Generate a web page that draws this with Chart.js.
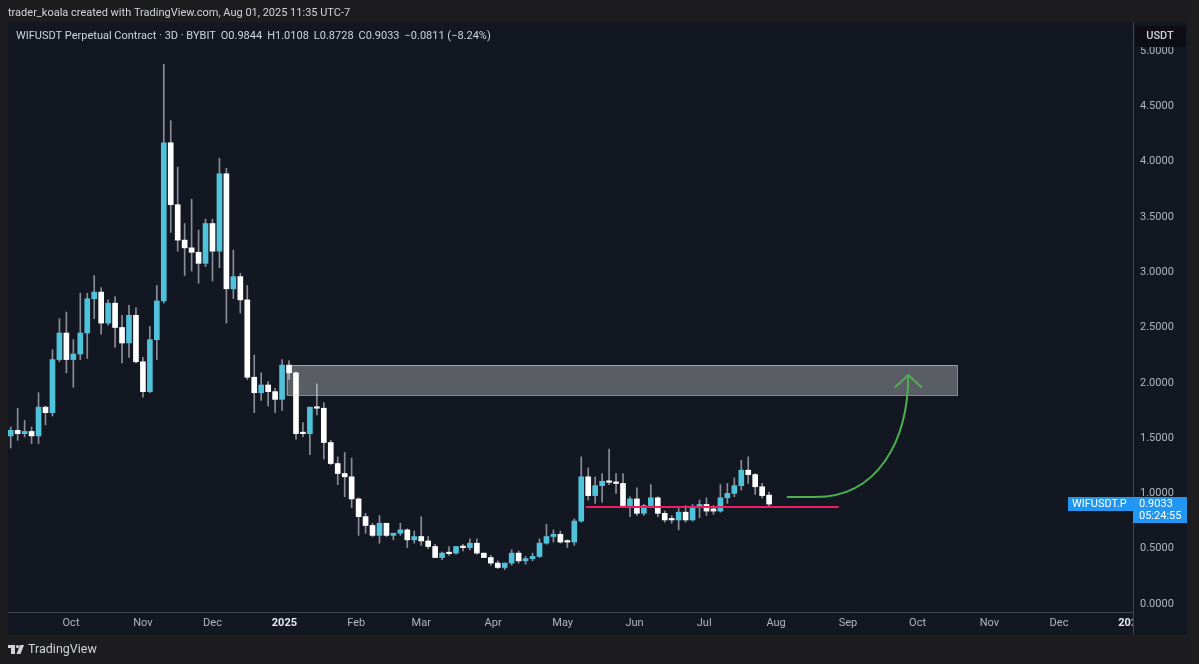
<!DOCTYPE html>
<html lang="en">
<head>
<meta charset="UTF-8">
<title>WIFUSDT Perpetual Contract · 3D · BYBIT</title>
<script src="https://cdn.jsdelivr.net/npm/chart.js"></script>
<style>
  html, body { margin: 0; padding: 0; background: #1e1e1e; overflow: hidden; }
  canvas { display: block; }
</style>
</head>
<body>
<canvas id="chart" width="1199" height="664"></canvas>
<script>
// 3D candles, WIFUSDT perpetual (Bybit), first candle opens 2024-09-05
const firstCandle = '2024-09-05';
const opens = [
  1.52, 1.57, 1.54, 1.56, 1.52, 1.78, 1.73, 2.21, 2.45, 2.21,
  2.26, 2.45, 2.76, 2.82, 2.54, 2.72, 2.50, 2.36, 2.61, 2.19,
  1.92, 2.39, 2.74, 4.17, 3.61, 3.29, 3.22, 3.18, 3.08, 3.44,
  3.19, 3.89, 2.85, 2.96, 2.75, 2.05, 1.91, 1.98, 1.92, 1.85,
  2.16, 2.09, 1.55, 1.54, 1.78, 1.77, 1.46, 1.27, 1.18, 1.15,
  0.95, 0.79, 0.71, 0.62, 0.73, 0.62, 0.64, 0.67, 0.58, 0.61,
  0.57, 0.52, 0.42, 0.46, 0.46, 0.52, 0.51, 0.55, 0.46, 0.42,
  0.37, 0.33, 0.37, 0.46, 0.39, 0.41, 0.43, 0.55, 0.61, 0.63,
  0.57, 0.56, 0.75, 1.15, 0.98, 1.07, 1.11, 1.10, 1.09, 0.89,
  0.95, 0.82, 0.89, 0.96, 0.82, 0.77, 0.76, 0.83, 0.76, 0.87,
  0.90, 0.86, 0.84, 0.96, 1.00, 1.07, 1.21, 1.17, 1.06, 0.9844
];
const highs = [
  1.60, 1.77, 1.66, 1.60, 1.91, 1.79, 2.30, 2.58, 2.64, 2.39,
  2.81, 2.81, 2.97, 2.86, 2.75, 2.78, 2.61, 2.70, 2.68, 2.23,
  2.51, 2.88, 4.88, 4.37, 3.95, 3.44, 3.66, 3.38, 3.48, 3.48,
  4.03, 3.94, 3.20, 2.99, 2.88, 2.25, 2.09, 2.01, 1.95, 2.21,
  2.20, 2.10, 1.64, 1.78, 1.99, 1.82, 1.48, 1.33, 1.37, 1.32,
  0.96, 0.82, 0.73, 0.80, 0.73, 0.64, 0.73, 0.68, 0.66, 0.79,
  0.61, 0.54, 0.47, 0.52, 0.52, 0.54, 0.59, 0.59, 0.46, 0.44,
  0.39, 0.37, 0.49, 0.48, 0.43, 0.46, 0.59, 0.72, 0.67, 0.66,
  0.58, 0.77, 1.33, 1.23, 1.15, 1.18, 1.40, 1.18, 1.18, 0.97,
  1.05, 0.90, 1.08, 0.97, 0.84, 0.80, 0.87, 0.89, 0.90, 0.94,
  0.96, 0.89, 1.08, 1.09, 1.14, 1.30, 1.33, 1.18, 1.09, 1.0108
];
const lows = [
  1.41, 1.48, 1.51, 1.45, 1.45, 1.62, 1.70, 2.19, 2.09, 1.96,
  2.21, 2.22, 2.58, 2.44, 2.52, 2.32, 2.18, 2.23, 2.18, 1.87,
  1.91, 2.21, 2.72, 3.36, 3.19, 2.97, 3.01, 2.90, 3.05, 2.92,
  3.04, 2.54, 2.76, 2.63, 2.03, 1.73, 1.84, 1.79, 1.73, 1.75,
  2.03, 1.49, 1.51, 1.35, 1.71, 1.31, 1.26, 1.08, 0.97, 0.87,
  0.62, 0.64, 0.61, 0.55, 0.61, 0.58, 0.62, 0.51, 0.55, 0.53,
  0.50, 0.42, 0.40, 0.44, 0.45, 0.48, 0.49, 0.45, 0.42, 0.35,
  0.32, 0.31, 0.35, 0.37, 0.36, 0.39, 0.42, 0.54, 0.56, 0.55,
  0.51, 0.53, 0.74, 0.94, 0.91, 0.92, 1.08, 1.00, 0.88, 0.79,
  0.80, 0.80, 0.87, 0.79, 0.74, 0.73, 0.67, 0.74, 0.75, 0.78,
  0.80, 0.81, 0.83, 0.91, 0.97, 1.03, 1.09, 0.99, 0.96, 0.8728
];
const closes = [
  1.57, 1.54, 1.56, 1.52, 1.78, 1.73, 2.21, 2.45, 2.21, 2.26,
  2.45, 2.76, 2.82, 2.54, 2.72, 2.50, 2.36, 2.61, 2.19, 1.92,
  2.39, 2.74, 4.17, 3.61, 3.29, 3.22, 3.18, 3.08, 3.44, 3.19,
  3.89, 2.85, 2.96, 2.75, 2.05, 1.91, 1.98, 1.92, 1.85, 2.16,
  2.09, 1.54, 1.54, 1.78, 1.77, 1.46, 1.27, 1.18, 1.15, 0.95,
  0.79, 0.71, 0.62, 0.73, 0.62, 0.64, 0.67, 0.58, 0.61, 0.57,
  0.52, 0.42, 0.46, 0.455, 0.52, 0.51, 0.55, 0.46, 0.42, 0.37,
  0.33, 0.37, 0.46, 0.39, 0.41, 0.43, 0.55, 0.61, 0.63, 0.56,
  0.56, 0.75, 1.15, 0.98, 1.07, 1.11, 1.10, 1.09, 0.89, 0.95,
  0.82, 0.89, 0.96, 0.82, 0.76, 0.76, 0.83, 0.76, 0.87, 0.90,
  0.84, 0.84, 0.96, 1.00, 1.07, 1.21, 1.17, 1.06, 0.98, 0.9033
];

// time axis labels
const monthTicks = [
  '2024-10-01', '2024-11-01', '2024-12-01', '2025-01-01', '2025-02-01', '2025-03-01',
  '2025-04-01', '2025-05-01', '2025-06-01', '2025-07-01', '2025-08-01', '2025-09-01',
  '2025-10-01', '2025-11-01', '2025-12-01', '2026-01-01'
];
const monthLabels = ['Oct', 'Nov', 'Dec', '2025', 'Feb', 'Mar', 'Apr', 'May', 'Jun', 'Jul', 'Aug', 'Sep', 'Oct', 'Nov', 'Dec', '2026'];
const priceTicks = [0, 0.5, 1, 1.5, 2, 2.5, 3, 3.5, 4, 4.5, 5];

// drawings on the chart
const zone = { from: '2025-01-02', to: '2025-10-18', top: 2.16, bottom: 1.89 };
const support = { from: '2025-05-11', to: '2025-08-28', price: 0.877 };
const arrow = {
  start: ['2025-08-06', 0.967], bend: ['2025-08-18', 0.967],
  c1: ['2025-09-14', 0.967], c2: ['2025-09-27', 1.48], end: ['2025-09-27', 2.07]
};

const BASE = Date.UTC(2024, 9, 1);
const dayOf = s => (Date.parse(s + 'T00:00:00Z') - BASE) / 86400000;

const FONT = 'Roboto, "Liberation Sans", sans-serif';
const UP = '#4fc3dc';
const DOWN = '#ffffff';
const WICK = '#8a8d97';
const PANEL = '#131722';
const OUTER = '#1d1d1f';
const TEXT = '#d1d4dc';
const AXIS_TEXT = '#b2b5be';
const LINE = '#434651';
const BLUE = '#2196f3';

const candleDays = opens.map((_, i) => dayOf(firstCandle) + 3 * i);
const bodies = candleDays.map((d, i) => ({ x: d, y: [opens[i], closes[i]] }));
const wicks = candleDays.map((d, i) => ({ x: d, y: [lows[i], highs[i]] }));
const bodyColors = closes.map((c, i) => c >= opens[i] ? UP : DOWN);

const tvPlugin = {
  id: 'tv',
  beforeDraw(chart) {
    const { ctx, width, height } = chart;
    ctx.save();
    ctx.fillStyle = OUTER;
    ctx.fillRect(0, 0, width, height);
    ctx.fillStyle = PANEL;
    ctx.fillRect(8, 22, 1179, 613);
    ctx.restore();
  },
  afterDatasetsDraw(chart) {
    const { ctx, chartArea } = chart;
    const x = chart.scales.x, y = chart.scales.y;
    const px = s => x.getPixelForValue(dayOf(s));
    const py = v => y.getPixelForValue(v);
    ctx.save();
    ctx.beginPath();
    ctx.rect(chartArea.left, chartArea.top, chartArea.right - chartArea.left, chartArea.bottom - chartArea.top);
    ctx.clip();

    // resistance zone
    const zx = px(zone.from), zy = py(zone.top);
    const zw = px(zone.to) - zx, zh = py(zone.bottom) - zy;
    ctx.fillStyle = 'rgba(255, 255, 255, 0.3)';
    ctx.fillRect(zx, zy, zw, zh);
    ctx.strokeStyle = 'rgba(220, 222, 230, 0.6)';
    ctx.lineWidth = 1;
    ctx.strokeRect(zx + 0.5, zy + 0.5, zw, zh);

    // support line
    ctx.strokeStyle = '#e91e63';
    ctx.lineWidth = 2;
    ctx.beginPath();
    ctx.moveTo(px(support.from), py(support.price));
    ctx.lineTo(px(support.to), py(support.price));
    ctx.stroke();

    // green curved arrow
    const pt = p => [px(p[0]), py(p[1])];
    const [sx, sy] = pt(arrow.start), [bx, by] = pt(arrow.bend);
    const [c1x, c1y] = pt(arrow.c1), [c2x, c2y] = pt(arrow.c2), [ex, ey] = pt(arrow.end);
    ctx.strokeStyle = '#4caf50';
    ctx.lineWidth = 2;
    ctx.lineCap = 'round';
    ctx.lineJoin = 'round';
    ctx.beginPath();
    ctx.moveTo(sx, sy);
    ctx.lineTo(bx, by);
    ctx.bezierCurveTo(c1x, c1y, c2x, c2y, ex, ey);
    ctx.moveTo(ex - 13, ey + 12);
    ctx.lineTo(ex, ey);
    ctx.lineTo(ex + 13, ey + 12);
    ctx.stroke();
    ctx.restore();
  },
  afterDraw(chart) {
    const { ctx } = chart;
    const y = chart.scales.y;
    ctx.save();

    // hide the part of the last time label under the price scale
    ctx.fillStyle = PANEL;
    ctx.fillRect(1132.5, 613, 54.5, 22);
    ctx.strokeStyle = LINE;
    ctx.lineWidth = 1;
    ctx.beginPath();
    ctx.moveTo(1133.5, 612);
    ctx.lineTo(1133.5, 635);
    ctx.stroke();

    // header
    ctx.textBaseline = 'middle';
    ctx.textAlign = 'left';
    ctx.fillStyle = TEXT;
    ctx.font = '11px ' + FONT;
    ctx.fillText('trader_koala created with TradingView.com, Aug 01, 2025 11:35 UTC-7', 8, 13);

    // legend
    const parts = ['WIFUSDT Perpetual Contract · 3D · BYBIT', 'O0.9844', 'H1.0108', 'L0.8728', 'C0.9033', '\u22120.0811 (\u22128.24%)'];
    let lx = 16;
    parts.forEach(t => {
      ctx.fillText(t, lx, 36);
      lx += ctx.measureText(t).width + 5;
    });

    // currency badge (partly covers the top price label)
    ctx.fillStyle = '#0c0e13';
    ctx.beginPath();
    ctx.roundRect(1135, 26, 51, 21, 3);
    ctx.fill();
    ctx.fillStyle = TEXT;
    ctx.textAlign = 'center';
    ctx.font = '500 11px ' + FONT;
    ctx.fillText('USDT', 1160, 36);

    // last price label
    const ly = Math.round(y.getPixelForValue(closes[closes.length - 1]));
    ctx.fillStyle = BLUE;
    ctx.fillRect(1068, ly - 7, 65, 14);
    ctx.fillRect(1133, ly - 7, 54, 26);
    ctx.fillStyle = '#ffffff';
    ctx.textAlign = 'left';
    ctx.font = '11px ' + FONT;
    ctx.fillText('WIFUSDT.P', 1072, ly);
    ctx.fillText(closes[closes.length - 1].toFixed(4), 1139, ly);
    ctx.fillText('05:24:55', 1139, ly + 12);

    // footer logo
    ctx.fillStyle = TEXT;
    ctx.fillRect(8, 645, 7, 3);
    ctx.fillRect(11, 645, 4, 9);
    ctx.beginPath();
    ctx.arc(17.5, 646.5, 1.6, 0, Math.PI * 2);
    ctx.fill();
    ctx.beginPath();
    ctx.moveTo(20, 645);
    ctx.lineTo(24, 645);
    ctx.lineTo(20.5, 654);
    ctx.lineTo(16.5, 654);
    ctx.closePath();
    ctx.fill();
    ctx.font = '12.5px ' + FONT;
    ctx.fillText('TradingView', 28, 650);
    ctx.restore();
  }
};

const isYear = i => /^\d{4}$/.test(monthLabels[i]);

new Chart(document.getElementById('chart'), {
  type: 'bar',
  data: {
    datasets: [
      {
        label: 'body',
        data: bodies,
        backgroundColor: bodyColors,
        borderWidth: 0,
        barThickness: 5,
        minBarLength: 1.5,
        grouped: false,
        order: 0
      },
      {
        label: 'wick',
        data: wicks,
        backgroundColor: WICK,
        borderWidth: 0,
        barThickness: 1,
        grouped: false,
        order: 1
      }
    ]
  },
  options: {
    responsive: false,
    animation: false,
    layout: { padding: { left: 8, top: 22, right: 12, bottom: 29 } },
    plugins: {
      legend: { display: false },
      tooltip: { enabled: false }
    },
    scales: {
      x: {
        type: 'linear',
        min: -27.17,
        max: 457.9,
        offset: false,
        grid: { display: false, drawTicks: false },
        border: { display: true, color: LINE },
        afterBuildTicks: s => { s.ticks = monthTicks.map(t => ({ value: dayOf(t) })); },
        afterFit: s => { s.height = 23; },
        ticks: {
          autoSkip: false,
          maxRotation: 0,
          padding: 5,
          callback: (v, i) => monthLabels[i],
          color: c => isYear(c.index) ? '#e8e9ee' : AXIS_TEXT,
          font: c => ({ family: FONT, size: 11, weight: isYear(c.index) ? 'bold' : 'normal' })
        }
      },
      y: {
        position: 'right',
        min: -0.0723,
        max: 5.262,
        grid: { display: false, drawTicks: false },
        border: { display: true, color: LINE },
        afterBuildTicks: s => { s.ticks = priceTicks.map(v => ({ value: v })); },
        afterFit: s => { s.width = 54; },
        ticks: {
          padding: 7,
          color: AXIS_TEXT,
          font: { family: FONT, size: 11 },
          callback: v => v.toFixed(4)
        }
      }
    }
  },
  plugins: [tvPlugin]
});
</script>
</body>
</html>
